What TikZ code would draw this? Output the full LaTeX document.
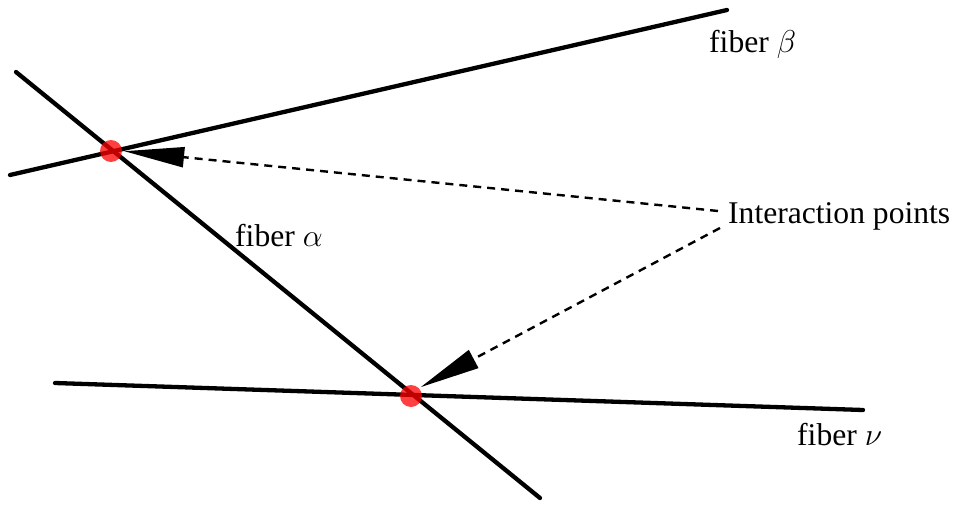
\documentclass[tikz,border=0pt]{standalone}
\usepackage{graphicx}
\usepackage{fontspec}
\setmainfont{Liberation Serif}
\usetikzlibrary{arrows.meta}
\newcommand{\grk}[1]{\scalebox{1.27}{$#1$}}
\tikzset{
  fiber/.style={line width=4.3pt, line cap=round},
  ipoint/.style={circle, fill=red, fill opacity=0.75, minimum size=22pt, inner sep=0pt},
  pointer/.style={line width=2.4pt, dash pattern=on 8pt off 6pt, -{Triangle[length=60pt,width=20pt]}, shorten >=2pt},
  lbl/.style={font=\fontsize{31.6}{38}\selectfont, inner sep=0pt, anchor=base west}
}
\begin{document}
\begin{tikzpicture}[x=1pt,y=-1pt]
\useasboundingbox (0,0) rectangle (956,506);
% fibers
\coordinate (b1) at (10,175); \coordinate (b2) at (727,10);
\coordinate (a1) at (16,72); \coordinate (a2) at (540,498);
\coordinate (n1) at (55,383); \coordinate (n2) at (863,410);
\draw[fiber] (b1) -- (b2);
\draw[fiber] (a1) -- (a2);
\draw[fiber] (n1) -- (n2);
% interaction points
\node[ipoint] (p1) at (111,151) {};
\node[ipoint] (p2) at (411,396) {};
% labels
\node[lbl] (lb) at (709,52) {fiber \grk{\beta}};
\node[lbl] (la) at (235,246) {fiber \grk{\alpha}};
\node[lbl] (ln) at (797,445) {fiber \grk{\nu}};
\node[lbl] (li) at (728,223) {Interaction points};
% pointers
\coordinate (s1) at (718,211);
\coordinate (s2) at (720,228);
\draw[pointer] (s1) -- (p1.east);
\draw[pointer] (s2) -- (p2.north east);
\end{tikzpicture}
\end{document}
